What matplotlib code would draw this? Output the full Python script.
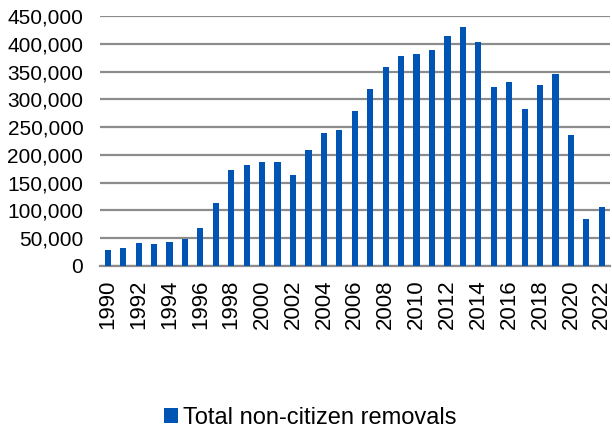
import numpy as np
import matplotlib.pyplot as plt
from matplotlib.ticker import FuncFormatter

plt.rcParams['font.family'] = ['Liberation Sans', 'DejaVu Sans']

years = list(range(1990, 2023))
removals = [28000, 32000, 42000, 40000, 44000, 49000, 68000, 113000, 173000,
            182000, 187000, 187000, 163000, 209000, 239000, 245000, 279000,
            318000, 358000, 378000, 381000, 389000, 414000, 431000, 404000,
            323000, 331000, 283000, 326000, 346000, 236000, 85000, 107000]
series_name = 'Total non-citizen removals'
bar_color = '#0054B4'

fig = plt.figure(figsize=(6.12, 4.29), dpi=100)
ax = fig.add_axes([0.1634, 0.38, 0.8326, 0.5827])

x = np.arange(len(years))
ax.bar(x, removals, width=0.4, color=bar_color, label=series_name, zorder=3)

ax.set_ylim(0, 450000)
ax.set_yticks(np.arange(0, 450001, 50000))
ax.yaxis.set_major_formatter(FuncFormatter(lambda v, p: f'{int(v):,}'))
ax.set_xlim(-0.5, len(years) - 0.5)
# label every other year
ax.set_xticks(x[::2])
ax.set_xticklabels([str(y) for y in years[::2]], rotation=90)

ax.grid(axis='y', color='#8c8c8c', linewidth=1.6, zorder=0)
for s in ['top', 'right', 'left']:
    ax.spines[s].set_visible(False)
ax.spines['bottom'].set_color('#8c8c8c')
ax.spines['bottom'].set_linewidth(1.6)
ax.tick_params(axis='both', length=0, colors='black')
ax.tick_params(axis='y', pad=12, labelsize=15)
ax.tick_params(axis='x', pad=10, labelsize=16)

fig.legend(loc='center', bbox_to_anchor=(0.507, 0.026), frameon=False,
           fontsize=17, handlelength=0.6, handleheight=0.55, handletextpad=0.2)

fig.savefig('out.png', dpi=100)
